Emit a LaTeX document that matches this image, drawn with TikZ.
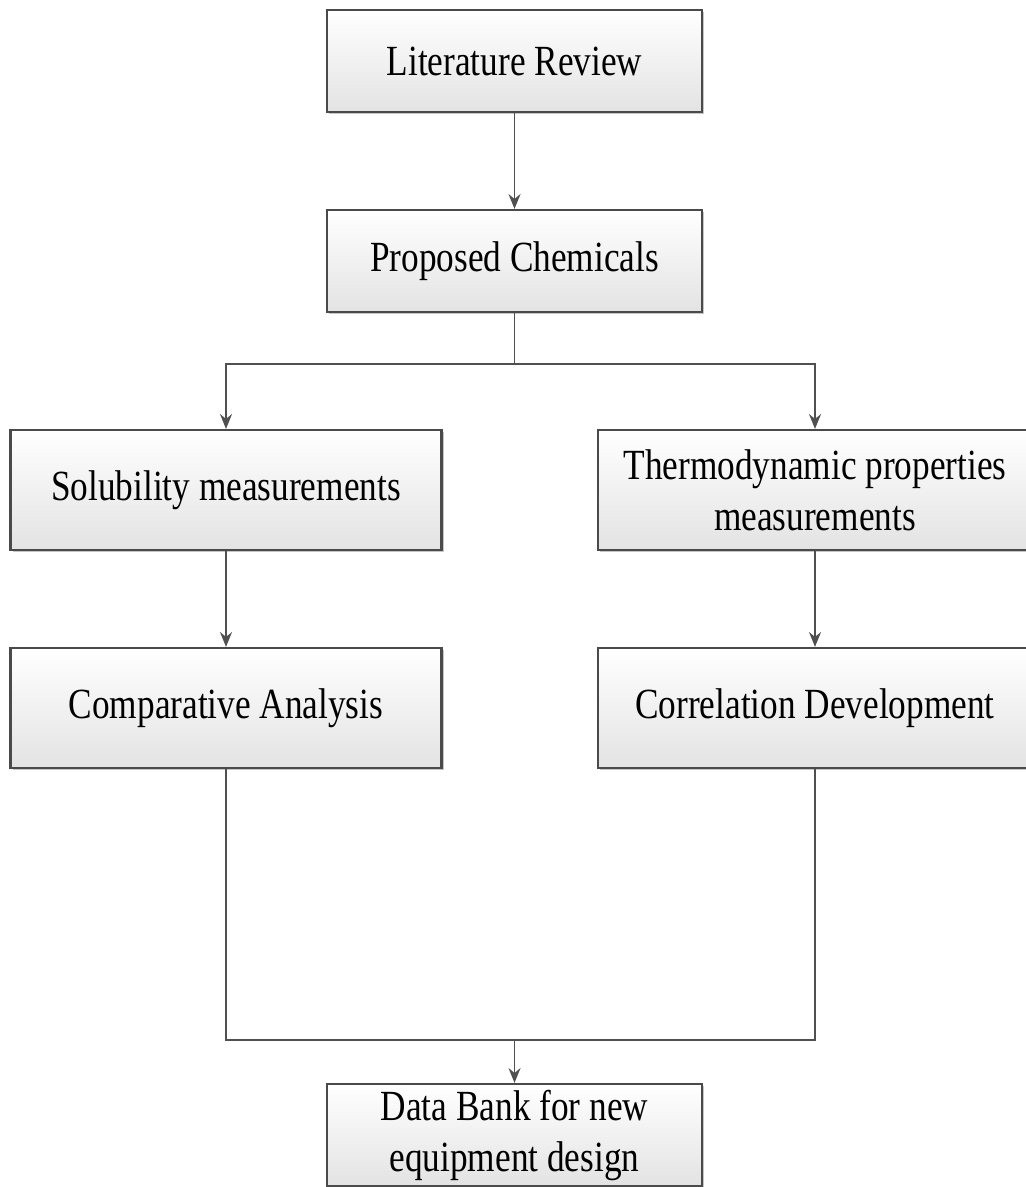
\documentclass[tikz,border=0pt]{standalone}
\usepackage{fontspec}
\setmainfont[FakeStretch=0.82]{Liberation Serif}
\usepackage{xcolor}
\usetikzlibrary{arrows.meta, shadows, calc}
\definecolor{boxline}{HTML}{4A4A4A}
\definecolor{flowline}{HTML}{505050}
\begin{document}
\begin{tikzpicture}[x=0.5pt, y=-0.5pt, >={Stealth[length=2.6mm, width=2.1mm]}]
    \useasboundingbox (0,0) rectangle (1025,1187);
    \begin{scope}[every node/.style={draw=boxline,
        line width=1.1pt,
        top color=white,
        bottom color=black!11,
        drop shadow={shadow xshift=1pt, shadow yshift=-1pt, opacity=0.45},
        font=\fontsize{21.5}{25.5}\selectfont,
        align=center,
        inner sep=0pt}]
        \node[minimum width=187.5pt, minimum height=51pt] at (514.5,61) (litreview) {Literature Review};
        \node[minimum width=187.5pt, minimum height=51pt] at (514.5,261) (chemicals) {Proposed Chemicals};
        \node[minimum width=215.5pt, minimum height=60pt] at (226,490) (solubility) {Solubility measurements};
        \node[minimum width=217pt, minimum height=60pt] at (815,490) (thermo) {Thermodynamic properties\\measurements};
        \node[minimum width=215.5pt, minimum height=60pt] at (226,708) (comparative) {Comparative Analysis};
        \node[minimum width=217pt, minimum height=60pt] at (815,708) (correlation) {Correlation Development};
        \node[minimum width=187.5pt, minimum height=51pt] at (514.5,1135) (databank) {Data Bank for new\\equipment design};
    \end{scope}
    \coordinate (split) at ($(chemicals.south)+(0,51)$);
    \coordinate (merge) at (514.5,1040);
    \begin{scope}[flowline, line width=0.9pt]
        \draw[->] (litreview) -- (chemicals);
        \draw (chemicals.south) -- (split);
        \draw[->] (split) -| (solubility.north);
        \draw[->] (split) -| (thermo.north);
        \draw[->] (solubility) -- (comparative);
        \draw[->] (thermo) -- (correlation);
        \draw (comparative.south) |- (merge);
        \draw (correlation.south) |- (merge);
        \draw[->] (merge) -- (databank.north);
    \end{scope}
\end{tikzpicture}
\end{document}
